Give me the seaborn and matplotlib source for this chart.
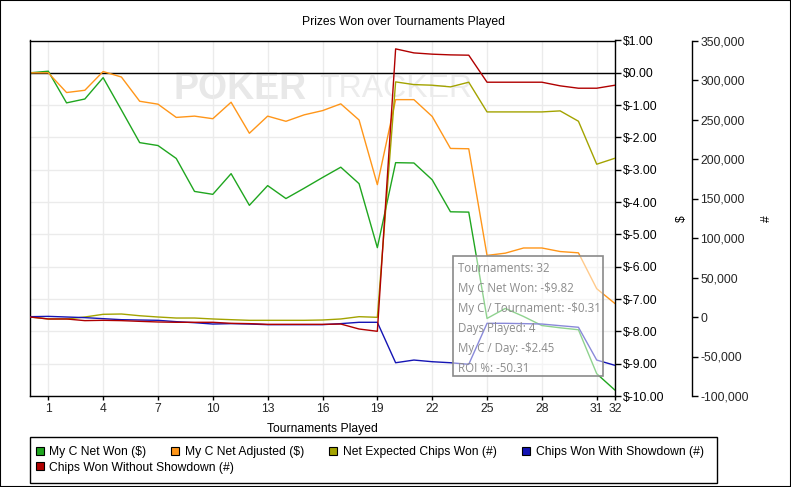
import matplotlib
matplotlib.use('Agg')
import matplotlib.pyplot as plt
from matplotlib.lines import Line2D
from matplotlib.patches import Rectangle
from matplotlib.ticker import FuncFormatter
import pandas as pd
import seaborn as sns

# tournament index (0 = start)
tournaments = list(range(0, 33))

# dollar series ($)
net_won = [0, 0.05, -0.93, -0.81, -0.15, -1.15, -2.16, -2.25, -2.65, -3.67, -3.76,
           -3.12, -4.10, -3.49, -3.89, -3.57, -3.24, -2.92, -3.43, -5.41, -2.78,
           -2.79, -3.31, -4.30, -4.31, -7.60, -7.29, -7.54, -7.82, -7.89, -7.95,
           -9.31, -9.82]
net_adjusted = [0, 0.0, -0.61, -0.54, 0.04, -0.13, -0.88, -0.97, -1.38, -1.34, -1.42,
                -0.91, -1.87, -1.34, -1.50, -1.30, -1.17, -0.96, -1.46, -3.46, -0.83,
                -0.83, -1.35, -2.34, -2.35, -5.65, -5.58, -5.42, -5.42, -5.53, -5.57,
                -6.68, -7.14]

# chip series (thousands of chips)
expected_chips_k = [0, -2.5, -2.5, 0, 3.4, 3.8, 1.6, 0, -1.3, -1.3, -2.5, -3.4, -4.2,
                    -4.2, -4.2, -4.2, -3.8, -2.5, 0.4, -0.4, 297.6, 294.2, 293.4, 291.3,
                    297.2, 259.6, 259.6, 259.6, 259.6, 260.9, 247.8, 193.4, 201.0]
showdown_chips_k = [0.4, 0.8, 0, -0.8, -2.1, -3.4, -3.8, -4.2, -5.9, -7.2, -8.9, -8.4,
                    -8.9, -9.7, -9.7, -9.7, -9.7, -8.4, -6.7, -6.7, -57.9, -54.5, -56.6,
                    -57.9, -59.9, -8.0, -8.0, -8.4, -8.9, -11.0, -13.0, -54.5, -61.2]
no_showdown_chips_k = [0, -2.5, -2.5, -4.6, -4.2, -4.6, -5.5, -6.3, -6.7, -6.7, -6.7,
                       -8.0, -8.4, -9.3, -9.3, -9.3, -9.3, -8.9, -15.2, -18.1, 339.4,
                       334.3, 332.7, 331.8, 331.4, 297.2, 297.2, 297.2, 297.2, 292.6,
                       289.6, 289.6, 293.4]

series_names = ['My C Net Won ($)', 'My C Net Adjusted ($)', 'Net Expected Chips Won (#)',
                'Chips Won With Showdown (#)', 'Chips Won Without Showdown (#)']
series_colors = ['#1fa61f', '#ff9619', '#a3a300', '#1414b4', '#b00000']

x_ticks = [1, 4, 7, 10, 13, 16, 19, 22, 25, 28, 31, 32]
dollar_ticks = [1, 0, -1, -2, -3, -4, -5, -6, -7, -8, -9, -10]
chip_ticks = [350000, 300000, 250000, 200000, 150000, 100000, 50000, 0, -50000, -100000]

tooltip_lines = ['Tournaments: 32', 'My C Net Won: -$9.82', 'My C / Tournament: -$0.31',
                 'Days Played: 4', 'My C / Day: -$2.45', 'ROI %: -50.31']

palette = dict(zip(series_names, series_colors))

df_dollar = pd.DataFrame({
    'Tournament': tournaments * 2,
    'Value': net_won + net_adjusted,
    'Series': [series_names[0]] * 33 + [series_names[1]] * 33,
})
df_chips = pd.DataFrame({
    'Tournament': tournaments * 3,
    'Value': [v * 1000 for v in expected_chips_k + showdown_chips_k + no_showdown_chips_k],
    'Series': [series_names[2]] * 33 + [series_names[3]] * 33 + [series_names[4]] * 33,
})

sns.set_theme(style='white')
plt.rcParams['font.family'] = ['Liberation Sans', 'DejaVu Sans']
FS = 8.7

W, H = 791, 487
fig = plt.figure(figsize=(W / 100, H / 100), dpi=100)
ax = fig.add_axes([30 / W, 91 / H, 585 / W, 355.5 / H])
ax2 = ax.twinx()

# watermark
ax.text(173 / W, 1 - 89 / H, 'POKER', transform=fig.transFigure, fontsize=27,
        fontweight='bold', color='#e8e8e8', va='center', ha='left', zorder=0)
ax.text(319 / W, 1 - 89 / H, 'TRACKER', transform=fig.transFigure, fontsize=23,
        color='#ececec', va='center', ha='left', zorder=0)

sns.lineplot(data=df_dollar, x='Tournament', y='Value', hue='Series', palette=palette,
             ax=ax, legend=False, linewidth=1.0)
sns.lineplot(data=df_chips, x='Tournament', y='Value', hue='Series', palette=palette,
             ax=ax2, legend=False, linewidth=1.0)

ax.axhline(0, color='black', lw=1, zorder=1.5)

ax.set_xlim(0, 32)
ax.set_ylim(-10, 1)
ax2.set_ylim(-100000, 350000)
ax.set_xticks(x_ticks)
ax.set_yticks(dollar_ticks)
ax2.set_yticks(chip_ticks)
ax.yaxis.set_major_formatter(FuncFormatter(lambda v, p: f'${v:.2f}'))
ax2.yaxis.set_major_formatter(FuncFormatter(lambda v, p: f'{v:,.0f}'))

ax.grid(True, color='#ebebeb', lw=1)
ax.set_axisbelow(True)
ax2.grid(False)

ax.yaxis.tick_right()
ax.tick_params(axis='y', which='both', right=True, left=False, direction='out', length=4,
               width=1, color='black', labelsize=FS, pad=2, labelcolor='black')
ax.tick_params(axis='x', bottom=True, direction='out', length=3, width=1, color='black',
               labelsize=FS, pad=2)
ax2.tick_params(axis='y', right=True, direction='out', length=4, width=1, color='black',
                labelsize=FS, pad=2)

for s in ['left', 'top', 'bottom', 'right']:
    ax.spines[s].set_color('black')
    ax.spines[s].set_linewidth(1)
for s in ['left', 'top', 'bottom']:
    ax2.spines[s].set_visible(False)
ax2.spines['right'].set_position(('axes', (692 - 30) / 585))
ax2.spines['right'].set_color('black')
ax2.spines['right'].set_linewidth(1)

ax.set_xlabel('Tournaments Played', fontsize=FS, color='black')
ax.xaxis.set_label_coords(0.5, (396 - 423) / 355.5)
ax.yaxis.set_label_position('right')
ax.set_ylabel('$', fontsize=FS, color='black')
ax.yaxis.set_label_coords((676 - 30) / 585, 0.5)
ax2.set_ylabel('#', fontsize=FS, color='black')
ax2.yaxis.set_label_coords((761 - 30) / 585, 0.5)

fig.text(403 / W, 1 - 22.5 / H, 'Prizes Won over Tournaments Played', fontsize=FS,
         ha='center', va='center', color='black')

# hover box
fig.add_artist(Rectangle((453 / W, 1 - 376 / H), 150 / W, 120 / H, transform=fig.transFigure,
                         facecolor='white', alpha=0.5, edgecolor='none'))
fig.add_artist(Rectangle((453 / W, 1 - 376 / H), 150 / W, 120 / H, transform=fig.transFigure,
                         facecolor='none', edgecolor='#8a8a8a', lw=1.2))
for i, line in enumerate(tooltip_lines):
    fig.text(458 / W, 1 - (268.5 + i * 20.1) / H, line, fontsize=8.3, color='#8c8c8c',
             family=['Open Sans', 'DejaVu Sans'], va='center', ha='left')

# legend
handles = [Line2D([], [], marker='s', color=c, markeredgecolor='black', markeredgewidth=0.8,
                  markersize=6, linestyle='none') for c in series_colors]
leg_kw = dict(frameon=False, fontsize=FS, handlelength=0.6, handletextpad=0.5,
              borderpad=0, borderaxespad=0, loc='upper left', labelcolor='black')
fig.legend(handles[:4], series_names[:4], ncol=4, columnspacing=2.1,
           bbox_to_anchor=(36 / W, 1 - 446 / H), **leg_kw)
fig.legend(handles[4:], series_names[4:], bbox_to_anchor=(36 / W, 1 - 461.5 / H), **leg_kw)
fig.add_artist(Rectangle((30 / W, 1 - 483 / H), 687 / W, 46 / H, transform=fig.transFigure,
                         facecolor='none', edgecolor='black', lw=1))

fig.add_artist(Rectangle((0, 0), 1, 1, transform=fig.transFigure, facecolor='none',
                         edgecolor='black', lw=1.5))

fig.savefig('out.png', dpi=100)
